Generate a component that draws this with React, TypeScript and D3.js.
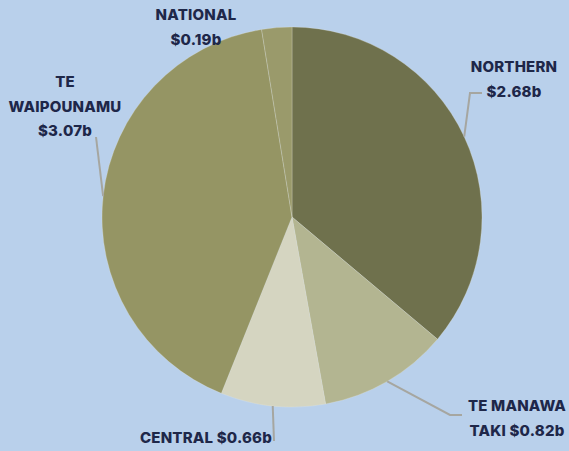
import React from "react";
import * as d3 from "d3";

const regions = ["NORTHERN", "TE MANAWA TAKI", "CENTRAL", "TE WAIPOUNAMU", "NATIONAL"];
const values = [2.68, 0.82, 0.66, 3.07, 0.19];
const colors = ["#6f714d", "#b3b591", "#d5d5c1", "#959564", "#9a9a6b"];
// label lines per region
const labelLines = [
  ["NORTHERN", "$2.68b"],
  ["TE MANAWA", "TAKI $0.82b"],
  ["CENTRAL $0.66b"],
  ["TE", "WAIPOUNAMU", "$3.07b"],
  ["NATIONAL", "$0.19b"],
];

const W = 569;
const H = 451;
const cx = 292;
const cy = 217;
const R = 190;

// label anchor (text centre, first baseline) and leader bend points
const labelPos = [
  { x: 514, y: 72, anchor: "middle", bend: [[470, 93], [482, 93]] },
  { x: 517, y: 411, anchor: "middle", bend: [[450, 415], [462, 415]] },
  { x: 206, y: 443, anchor: "middle", bend: [[274, 441]] },
  { x: 65, y: 87, anchor: "middle", bend: [[96, 137]] },
  { x: 196, y: 20, anchor: "middle", bend: null },
];

export default function App() {
  const pie = d3.pie<number>().sort(null).startAngle(0).endAngle(2 * Math.PI);
  const arcs = pie(values);
  const arc = d3.arc<d3.PieArcDatum<number>>().innerRadius(0).outerRadius(R);
  const lineH = 24.5;
  return (
    <div style={{ position: "absolute", left: 0, top: 0 }}>
      <svg width={W} height={H} style={{ display: "block" }}>
        <rect width={W} height={H} fill="#b9d0eb" />
        <g transform={`translate(${cx},${cy})`}>
          {arcs.map((a, i) => (
            <path
              key={regions[i]}
              d={arc(a) || ""}
              fill={colors[i]}
              stroke="#e8e8dc"
              strokeOpacity={0.45}
              strokeWidth={0.6}
            />
          ))}
        </g>
        {arcs.map((a, i) => {
          const lp = labelPos[i];
          if (!lp.bend) return null;
          const mid = (a.startAngle + a.endAngle) / 2;
          const sx = cx + R * Math.sin(mid);
          const sy = cy - R * Math.cos(mid);
          const pts: [number, number][] = [[sx, sy], ...(lp.bend as [number, number][])];
          return (
            <path
              key={"l" + i}
              d={d3.line()(pts) || ""}
              fill="none"
              stroke="#a6a6a0"
              strokeWidth={2}
            />
          );
        })}
        {labelLines.map((lines, i) => {
          const lp = labelPos[i];
          return (
            <text
              key={"t" + i}
              x={lp.x}
              y={lp.y}
              textAnchor={lp.anchor as any}
              fontFamily="Inter, 'Open Sans', sans-serif"
              fontWeight={800}
              fontSize={15}
              letterSpacing={0.2}
              fill="#1e2749"
            >
              {lines.map((ln, j) => (
                <tspan key={j} x={lp.x} dy={j === 0 ? 0 : lineH}>
                  {ln}
                </tspan>
              ))}
            </text>
          );
        })}
      </svg>
    </div>
  );
}
